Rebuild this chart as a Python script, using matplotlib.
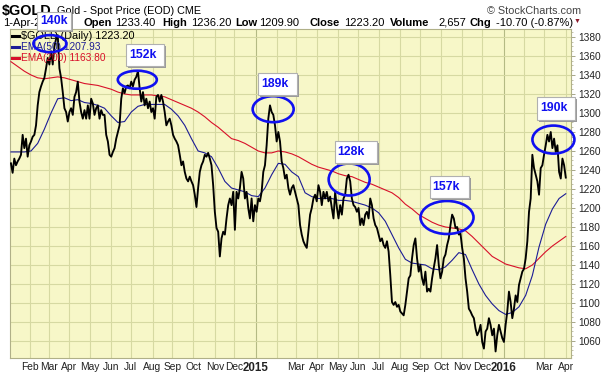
import numpy as np
import pandas as pd
import matplotlib
matplotlib.use("Agg")
import matplotlib.pyplot as plt
from matplotlib.patches import Ellipse, Rectangle
from matplotlib.lines import Line2D
from matplotlib.transforms import IdentityTransform

plt.rcParams['font.family'] = ['Liberation Sans', 'DejaVu Sans']

W, H, DPI = 614, 380, 100

# ---------------- data ----------------
axis_start, axis_end = "2014-01-03", "2016-04-08"
series_start, series_end = "2014-01-06", "2016-04-01"

close = [
    1247, 1237, 1252, 1245, 1249, 1252, 1256, 1277, 1263, 1273,
    1254, 1266, 1270, 1275, 1277, 1287, 1308, 1322, 1328, 1333,
    1337, 1347, 1358, 1351, 1365, 1351, 1370, 1378, 1382, 1347,
    1337, 1322, 1305, 1301, 1291, 1301, 1305, 1298, 1317, 1322,
    1333, 1312, 1301, 1294, 1303, 1294, 1308, 1294, 1315, 1310,
    1298, 1305, 1308, 1294, 1303, 1298, 1298, 1277, 1270, 1256,
    1254, 1259, 1263, 1273, 1280, 1287, 1315, 1326, 1321, 1328,
    1329, 1326, 1333, 1328, 1335, 1338, 1344, 1326, 1312, 1322,
    1308, 1315, 1305, 1312, 1301, 1305, 1294, 1317, 1319, 1312,
    1319, 1312, 1301, 1287, 1291, 1294, 1287, 1277, 1273, 1270,
    1266, 1256, 1245, 1249, 1238, 1231, 1228, 1233, 1228, 1224,
    1214, 1201, 1221, 1238, 1245, 1249, 1256, 1254, 1258, 1252,
    1245, 1224, 1196, 1179, 1175, 1149, 1168, 1175, 1172, 1189,
    1203, 1210, 1203, 1217, 1177, 1217, 1210, 1221, 1238, 1231,
    1210, 1217, 1200, 1189, 1210, 1186, 1203, 1196, 1210, 1207,
    1217, 1238, 1245, 1266, 1294, 1308, 1301, 1298, 1287, 1270,
    1280, 1270, 1249, 1242, 1231, 1235, 1221, 1214, 1221, 1224,
    1217, 1210, 1203,
    1182, 1172, 1165, 1161, 1158, 1175, 1193, 1200, 1210, 1214,
    1207, 1224, 1217, 1203, 1217, 1210, 1217, 1207, 1212, 1200,
    1189, 1217, 1201, 1189, 1203, 1193, 1210, 1214, 1231, 1235,
    1228, 1210, 1203, 1201, 1196, 1200, 1182, 1189, 1182, 1193,
    1196, 1189, 1210, 1203, 1189, 1182, 1179, 1172, 1165, 1168,
    1161, 1158, 1165, 1154, 1129, 1101, 1098, 1101, 1096, 1098,
    1091, 1089, 1087, 1098, 1112, 1126, 1129, 1147, 1161, 1168,
    1147, 1133, 1140, 1126, 1119, 1133, 1112, 1115, 1112, 1126,
    1137, 1147, 1161, 1140, 1126, 1133, 1147, 1151, 1161, 1168,
    1182, 1193, 1189, 1179, 1180, 1172, 1173, 1158, 1147, 1126,
    1112, 1094, 1091, 1087, 1084, 1073, 1066, 1070, 1077, 1059,
    1052, 1070, 1073, 1084, 1077, 1066, 1073, 1049, 1066, 1077,
    1070, 1063, 1059, 1077, 1091, 1112, 1101, 1084, 1094, 1108,
    1101, 1119, 1126, 1133, 1136, 1147, 1165, 1196, 1210, 1256,
    1242, 1235, 1228, 1214, 1242, 1245, 1256, 1266, 1277, 1270,
    1280, 1263, 1273, 1259, 1266, 1238, 1231, 1252, 1245, 1232,
]

ema50 = [
    1259, 1259, 1259, 1260, 1268, 1283, 1300, 1315, 1316, 1313,
    1314, 1311, 1310, 1308, 1305, 1297, 1290, 1291, 1301, 1307,
    1309, 1309, 1309, 1309, 1304, 1297, 1287, 1273, 1260, 1258,
    1254, 1242, 1228, 1221, 1219, 1217, 1213, 1212, 1221, 1235,
    1247, 1246, 1238, 1233,
    1216, 1212, 1210, 1210, 1210, 1208, 1208, 1207, 1205, 1203,
    1200, 1195, 1186, 1172, 1158, 1146, 1142, 1141, 1140, 1136,
    1135, 1138, 1145, 1153, 1151, 1135, 1120, 1108, 1099, 1092,
    1088, 1090, 1096, 1108, 1129, 1159, 1183, 1199, 1210, 1215,
]

ema200 = [
    1354, 1349, 1344, 1340, 1337, 1336, 1337, 1338, 1337, 1335,
    1333, 1331, 1330, 1329, 1327, 1325, 1322, 1320, 1319, 1319,
    1319, 1319, 1318, 1317, 1314, 1311, 1308, 1305, 1301, 1296,
    1290, 1285, 1279, 1273, 1271, 1268, 1264, 1260, 1258, 1258,
    1260, 1259, 1257, 1254,
    1250, 1246, 1243, 1241, 1239, 1236, 1234, 1233, 1230, 1227,
    1225, 1222, 1219, 1216, 1211, 1204, 1199, 1193, 1189, 1185,
    1182, 1180, 1179, 1178, 1176, 1170, 1163, 1156, 1149, 1145,
    1141, 1139, 1137, 1136, 1140, 1147, 1154, 1160, 1165, 1170,
]

y_ticks = list(range(1060, 1381, 20))
month_labels = ["Feb", "Mar", "Apr", "May", "Jun", "Jul", "Aug", "Sep", "Oct",
                "Nov", "Dec", "2015", "", "Mar", "Apr", "May", "Jun", "Jul",
                "Aug", "Sep", "Oct", "Nov", "Dec", "2016", "", "Mar", "Apr"]

ann_labels = ["140k", "152k", "189k", "128k", "157k", "190k"]
ann_dates = ["2014-03-04", "2014-07-10", "2015-01-27", "2015-05-19",
             "2015-10-09", "2016-03-15"]
ann_prices = [1373, 1335, 1304, 1230, 1190, 1272]

legend_rows = [("$GOLD (Daily) 1223.20", "black"),
               ("EMA(50) 1207.93", "#1c1c96"),
               ("EMA(200) 1163.80", "#d8102a")]

header_title = "$GOLD"
header_sub = "Gold - Spot Price (EOD) CME"
header_copy = "\u00a9 StockCharts.com"
quote_parts = [("1-Apr-2016", False), ("Open", True), ("1233.40", False),
               ("High", True), ("1236.20", False), ("Low", True),
               ("1209.90", False), ("Close", True), ("1223.20", False),
               ("Volume", True), ("2,657", False), ("Chg", True),
               ("-10.70 (-0.87%)", False)]

# ---------------- styles ----------------
BG = "#F7F7C8"
GRID = "#D6D9A2"
GRID_YEAR = "#B4BA84"
FRAME = "#B0B088"
ANN_BLUE = "#1010F0"

quote_x = [3, 84, 115, 162, 191, 235, 259, 309, 344, 390, 438, 470, 496]
ell_size = [(33, 17), (39, 18), (41, 26), (41, 32), (53, 33), (42, 28)]
box_off = [(4, -22.5), (8, -24.5), (4.5, -25.5), (6.5, -27.5), (2, -30), (3, -31.5)]
box_size = [(34, 18), (38, 22), (39, 22), (42, 22), (39, 22), (38, 23)]

# ---------------- figure ----------------
bdays = pd.bdate_range(axis_start, axis_end)
def bidx(d):
    return int(bdays.searchsorted(pd.Timestamp(d)))

i0, i1 = bidx(series_start), bidx(series_end)
x_close = np.linspace(i0, i1, len(close))
x_ema = np.linspace(i0, i1, len(ema50))

fig = plt.figure(figsize=(W / DPI, H / DPI), dpi=DPI)
fig.patch.set_facecolor("white")
ax = fig.add_axes([10 / W, 1 - 358 / H, 561 / W, 329 / H])
ax.set_facecolor(BG)
ax.set_xlim(0, len(bdays) - 0.5)
ax.set_ylim(1042.1, 1388.4)

# grid
months = pd.date_range("2014-02-01", "2016-04-01", freq="MS")
mpos = [bidx(m) for m in months]
for p, lab in zip(mpos, month_labels):
    isyear = lab.isdigit()
    ax.axvline(p, color=GRID_YEAR if isyear else GRID, lw=0.8, zorder=1)
for t in y_ticks:
    ax.axhline(t, color=GRID, lw=0.8, zorder=1)

ax.set_xticks(mpos)
ax.set_xticklabels(month_labels)
for tl, lab in zip(ax.get_xticklabels(), month_labels):
    if lab.isdigit():
        tl.set_fontweight("bold")
        tl.set_fontsize(8.3)
    else:
        tl.set_fontsize(7.4)
    tl.set_color("#222222")
ax.tick_params(axis="x", length=0, pad=3)

ax.yaxis.tick_right()
ax.set_yticks(y_ticks)
ax.set_yticklabels([str(t) for t in y_ticks], fontsize=7.3, color="#222222")
ax.tick_params(axis="y", length=3, width=0.6, color="#999977", pad=2)
ax.set_yticks(np.arange(1045, 1390, 5), minor=True)
ax.tick_params(axis="y", which="minor", length=1.5, width=0.5, color="#aaaa88")

for s in ax.spines.values():
    s.set_color(FRAME)
    s.set_linewidth(0.8)

# series
ax.plot(x_ema, ema200, color="#d8102a", lw=0.8, zorder=3)
ax.plot(x_ema, ema50, color="#1c1c96", lw=0.8, zorder=3)
ax.plot(x_close, close, color="black", lw=1.35, zorder=4)

# legend (inside plot)
IT = IdentityTransform()
for k, (txt, col) in enumerate(legend_rows):
    yy = H - (36 + 11 * k)
    fig.add_artist(Line2D([12, 19], [yy, yy], color=col, lw=2.2, transform=IT))
    fig.text(21, yy, txt, color=col, fontsize=7.8 if k == 0 else 7.3,
             va="center", ha="left", transform=IT, zorder=5)

# header
fig.text(2, H - 14.5, header_title, fontsize=10.4, fontweight="bold", va="baseline",
         ha="left", transform=IT)
fig.text(57, H - 13.5, header_sub, fontsize=7.8, va="baseline", ha="left",
         transform=IT)
fig.text(581, H - 13.5, header_copy, fontsize=7.8, va="baseline", ha="right",
         color="#444444", transform=IT)
for (txt, bold), xx in zip(quote_parts, quote_x):
    fig.text(xx, H - 25.5, txt, fontsize=8, fontweight="bold" if bold else "normal",
             va="baseline", ha="left", transform=IT)
fig.text(574, H - 21, "\u25bc", fontsize=5, color="#8b1a2b", va="center",
         ha="left", transform=IT)

# annotations
fig.canvas.draw()
for lab, d, pr, (ew, eh), (dx, dy), (bw, bh) in zip(
        ann_labels, ann_dates, ann_prices, ell_size, box_off, box_size):
    X, Y = ax.transData.transform((bidx(d), pr))
    fig.add_artist(Ellipse((X, Y), ew, eh, fill=False, ec=ANN_BLUE, lw=1.9,
                           transform=IT, zorder=6))
    bx, by = X + dx, Y - dy
    fig.add_artist(Rectangle((bx - bw / 2 + 2, by - bh / 2 - 2), bw, bh,
                             fc="#9a9a9a", ec="none", transform=IT, zorder=6))
    fig.add_artist(Rectangle((bx - bw / 2, by - bh / 2), bw, bh,
                             fc="white", ec="#b0b0b0", lw=0.8, transform=IT, zorder=7))
    fig.text(bx - bw / 2 + 3, by, lab, fontsize=8.8, fontweight="bold",
             color=ANN_BLUE, va="center", ha="left", transform=IT, zorder=8)

fig.savefig("out.png", dpi=DPI, facecolor="white")
